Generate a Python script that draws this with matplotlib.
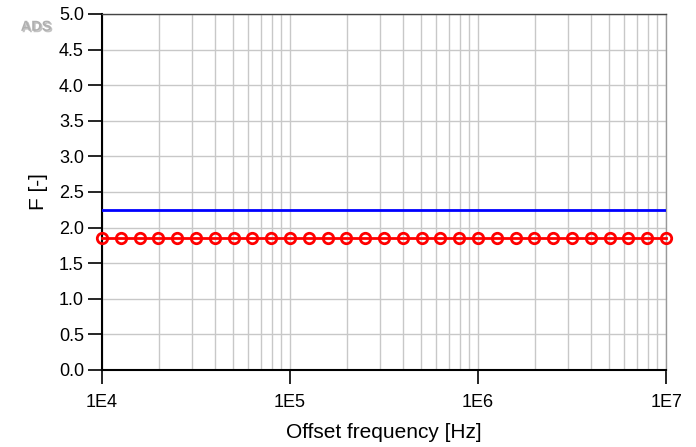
import numpy as np
import matplotlib.pyplot as plt
import matplotlib.patheffects as pe

plt.rcParams['font.family'] = ['Liberation Sans', 'DejaVu Sans']

# offset frequencies (10 points per decade, 1E4 .. 1E7)
freq = [1.0e4, 1.259e4, 1.585e4, 1.995e4, 2.512e4, 3.162e4, 3.981e4, 5.012e4, 6.310e4, 7.943e4,
        1.0e5, 1.259e5, 1.585e5, 1.995e5, 2.512e5, 3.162e5, 3.981e5, 5.012e5, 6.310e5, 7.943e5,
        1.0e6, 1.259e6, 1.585e6, 1.995e6, 2.512e6, 3.162e6, 3.981e6, 5.012e6, 6.310e6, 7.943e6,
        1.0e7]
f_blue = [2.25] * len(freq)
f_red = [1.85] * len(freq)

x_ticks = [1e4, 1e5, 1e6, 1e7]
x_labels = ['1E4', '1E5', '1E6', '1E7']
y_ticks = [0.0, 0.5, 1.0, 1.5, 2.0, 2.5, 3.0, 3.5, 4.0, 4.5, 5.0]

fig = plt.figure(figsize=(6.96, 4.47), dpi=100)
ax = fig.add_axes([0.1466, 0.1723, 0.8104, 0.7964])

ax.plot(freq, f_blue, color='#0000ff', lw=2, zorder=3)
ax.plot(freq, f_red, color='#ff0000', lw=2, marker='o', ms=7.5, mfc='none',
        mec='#ff0000', mew=2, zorder=4, clip_on=False)

ax.set_xscale('log')
ax.set_xlim(1e4, 1e7)
ax.set_ylim(0, 5)
ax.set_xticks(x_ticks)
ax.set_xticklabels(x_labels)
ax.set_yticks(y_ticks)
ax.set_yticklabels([f'{v:.1f}' for v in y_ticks])
ax.minorticks_on()
ax.yaxis.set_minor_locator(plt.NullLocator())
ax.tick_params(axis='x', which='minor', length=0)
ax.tick_params(axis='both', which='major', direction='out', length=10, width=1.2,
               labelsize=13, color='black', pad=3)
ax.tick_params(axis='x', which='major', pad=7)
ax.grid(True, which='both', axis='x', color='#c8c8c8', lw=1)
ax.grid(True, which='major', axis='y', color='#c8c8c8', lw=1)
ax.set_axisbelow(True)

for s in ['left', 'bottom']:
    ax.spines[s].set_linewidth(1.5)
    ax.spines[s].set_color('black')
ax.spines['top'].set_color('#444444')
ax.spines['top'].set_linewidth(1)
ax.spines['right'].set_color('#999999')
ax.spines['right'].set_linewidth(1)

ax.set_ylabel('F [-]', fontsize=15, labelpad=8)
ax.set_xlabel('Offset frequency [Hz]', fontsize=15, labelpad=9)

fig.text(0.052, 0.94, 'ADS', fontsize=10.5, color='#b0b0b0', fontweight='bold',
         ha='center', va='center',
         path_effects=[pe.withSimplePatchShadow(offset=(1, -1), shadow_rgbFace='#888888', alpha=0.5)])

fig.savefig('out.png', dpi=100)
